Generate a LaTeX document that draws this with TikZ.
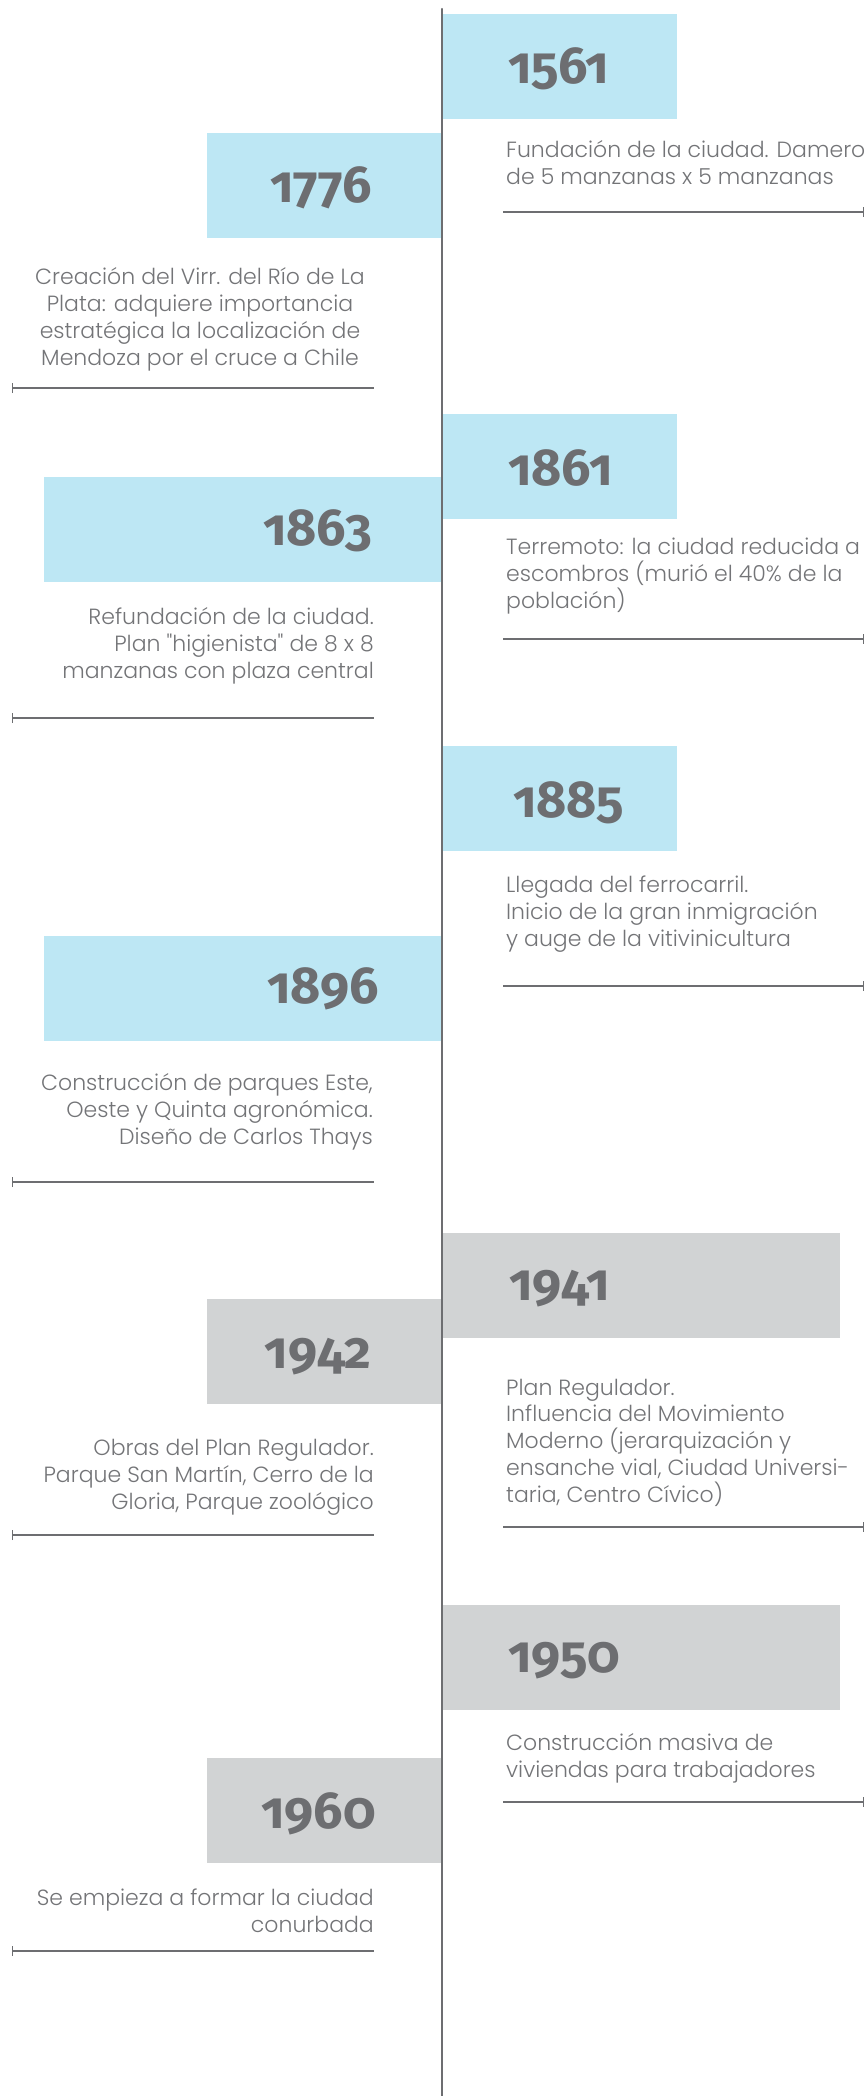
\documentclass[tikz,border=0pt]{standalone}
\usepackage{fontspec}
\IfFontExistsTF{Fira Sans Bold}{%
  \newfontfamily\yearfont{Fira Sans Bold}[Numbers=OldStyle]}{%
  \newfontfamily\yearfont{Fira Sans}[Numbers=OldStyle]}
\IfFontExistsTF{Poppins Light}{%
  \newfontfamily\notefont{Poppins Light}}{%
  \newfontfamily\notefont{Fira Sans}[Numbers=OldStyle]}
\usepackage{xcolor}
\usetikzlibrary{arrows.meta}
\definecolor{skyfill}{HTML}{BDE7F4}
\definecolor{greyfill}{HTML}{D1D3D4}
\definecolor{inkgrey}{HTML}{6D6E71}
\definecolor{txtgrey}{HTML}{737477}

\begin{document}
\begin{tikzpicture}[x=1pt, y=-1pt,
  skybox/.style = {rectangle, fill=skyfill, minimum width=235pt, minimum height=105pt, inner sep=0pt},
  greybox/.style = {rectangle, fill=greyfill, minimum width=235pt, minimum height=105pt, inner sep=0pt},
  year/.style = {font=\yearfont\fontsize{52}{52}\selectfont, text=inkgrey, inner sep=0pt},
  note/.style = {font=\notefont\fontsize{22}{26.7}\selectfont, text=txtgrey, inner sep=0pt},
  rulebar/.style = {draw=inkgrey, line width=1.4pt}]

    \useasboundingbox (0,0) rectangle (867,2096);

    % boxes
    \node[skybox, anchor=north west] (b1561) at (442,14) {};
    \node[skybox, anchor=north east] (b1776) at (442,133) {};
    \node[skybox, anchor=north west] (b1861) at (442,414) {};
    \node[skybox, anchor=north east, minimum width=398pt] (b1863) at (442,477) {};
    \node[skybox, anchor=north west] (b1885) at (442,746) {};
    \node[skybox, anchor=north east, minimum width=398pt] (b1896) at (442,936) {};
    \node[greybox, anchor=north west, minimum width=398pt] (b1941) at (442,1233) {};
    \node[greybox, anchor=north east] (b1942) at (442,1299) {};
    \node[greybox, anchor=north west, minimum width=398pt] (b1950) at (442,1605) {};
    \node[greybox, anchor=north east] (b1960) at (442,1758) {};

    % years
    \node[year, anchor=base west] (y1561) at (508,83) {1561};
    \node[year, anchor=base east] (y1776) at (372,202) {1776};
    \node[year, anchor=base west] (y1861) at (508,485) {1861};
    \node[year, anchor=base east] (y1863) at (372,545) {1863};
    \node[year, anchor=base west] (y1885) at (513,817) {1885};
    \node[year, anchor=base east] (y1896) at (379,1003) {1896};
    \node[year, anchor=base west] (y1941) at (509,1300) {1941};
    \node[year, anchor=base east] (y1942) at (372,1368) {1942};
    \node[year, anchor=base west] (y1950) at (508,1672) {1950};
    \node[year, anchor=base east] (y1960) at (376,1828) {1960};

    % texts (base = last line)
    \node[note, anchor=base west, align=left] (t1561) at (506,184)
        {Fundación de la ciudad. Damero\\de 5 manzanas x 5 manzanas};
    \node[note, anchor=base, align=center] (t1776) at (200,365)
        {Creación del Virr. del Río de La\\Plata: adquiere importancia\\estratégica la localización de\\Mendoza por el cruce a Chile};
    \node[note, anchor=base west, align=left] (t1861) at (506,608)
        {Terremoto: la ciudad reducida a\\escombros (murió el 40\% de la\\población)};
    \node[note, anchor=base east, align=right] (t1863) at (374,678)
        {Refundación de la ciudad.\\Plan "higienista" de 8 x 8\\manzanas con plaza central};
    \node[note, anchor=base west, align=left] (t1885) at (506,946)
        {Llegada del ferrocarril.\\Inicio de la gran inmigración\\y auge de la vitivinicultura};
    \node[note, anchor=base east, align=right] (t1896) at (373,1144)
        {Construcción de parques Este,\\Oeste y Quinta agronómica.\\Diseño de Carlos Thays};
    \node[note, anchor=base west, align=left] (t1941) at (506,1502)
        {Plan Regulador.\\Influencia del Movimiento\\Moderno (jerarquización y\\ensanche vial, Ciudad Universi-\\taria, Centro Cívico)};
    \node[note, anchor=base east, align=right] (t1942) at (374,1509)
        {Obras del Plan Regulador.\\Parque San Martín, Cerro de la\\Gloria, Parque zoológico};
    \node[note, anchor=base west, align=left] (t1950) at (506,1777)
        {Construcción masiva de\\viviendas para trabajadores};
    \node[note, anchor=base east, align=right] (t1960) at (374,1932)
        {Se empieza a formar la ciudad\\conurbada};

    % rules
    \draw[rulebar, -{Bar[width=10pt]}] (503,212) -- (864,212);
    \draw[rulebar, {Bar[width=10pt]}-] (12,388) -- (374,388);
    \draw[rulebar, -{Bar[width=10pt]}] (503,639) -- (864,639);
    \draw[rulebar, {Bar[width=10pt]}-] (12,718) -- (374,718);
    \draw[rulebar, -{Bar[width=10pt]}] (503,986) -- (864,986);
    \draw[rulebar, {Bar[width=10pt]}-] (12,1182) -- (374,1182);
    \draw[rulebar, -{Bar[width=10pt]}] (503,1527) -- (864,1527);
    \draw[rulebar, {Bar[width=10pt]}-] (12,1535) -- (374,1535);
    \draw[rulebar, -{Bar[width=10pt]}] (503,1802) -- (864,1802);
    \draw[rulebar, {Bar[width=10pt]}-] (12,1951) -- (374,1951);

    % axis
    \coordinate (top) at (442,9);
    \coordinate (bottom) at (442,2096);
    \draw[draw=inkgrey, line width=2.5pt, line cap=round] (top) -- (bottom);

\end{tikzpicture}
\end{document}
